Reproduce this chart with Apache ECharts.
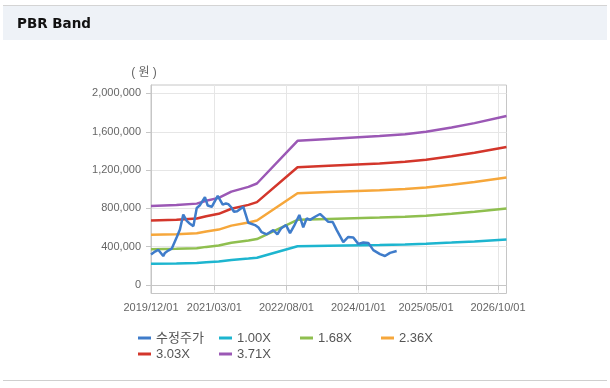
<!DOCTYPE html>
<html><head><meta charset="utf-8">
<script src="https://cdn.jsdelivr.net/npm/echarts@6/dist/echarts.min.js"></script>
<style>html,body{margin:0;padding:0;background:#fff;}#c{width:610px;height:388px;}</style>
</head><body><div id="c"></div>
<script>
// ---- data ----
const seriesNames = ['수정주가', '1.00X', '1.68X', '2.36X', '3.03X', '3.71X'];
const xTickLabels = ['2019/12/01', '2021/03/01', '2022/08/01', '2024/01/01', '2025/05/01', '2026/10/01'];
const yTickValues = [0, 400000, 800000, 1200000, 1600000, 2000000];

const priceDates = ['2019/12/01','2019/12/30','2020/01/22','2020/02/04','2020/02/27','2020/03/10','2020/04/03','2020/04/28','2020/06/03','2020/06/26','2020/07/20','2020/08/14','2020/09/06','2020/10/01','2020/10/25','2020/11/15','2020/12/23','2021/01/12','2021/02/10','2021/03/25','2021/04/30','2021/05/23','2021/06/09','2021/06/28','2021/07/20','2021/08/12','2021/09/25','2021/10/31','2021/12/18','2022/01/12','2022/02/04','2022/03/12','2022/04/29','2022/05/28','2022/06/23','2022/07/29','2022/08/27','2022/09/25','2022/11/02','2022/11/30','2022/12/25','2023/01/18','2023/02/23','2023/03/31','2023/04/23','2023/05/29','2023/06/30','2023/07/29','2023/09/14','2023/10/20','2023/11/25','2023/12/31','2024/02/05','2024/03/12','2024/04/17','2024/06/04','2024/07/10','2024/08/15','2024/10/02'];
const priceValues = [320000,350000,368000,360000,303000,335000,360000,380000,500000,580000,735000,670000,640000,615000,805000,830000,918000,830000,817000,930000,840000,852000,845000,815000,765000,770000,817000,650000,626000,600000,552000,530000,574000,530000,590000,626000,542000,617000,732000,603000,696000,680000,713000,742000,712000,660000,658000,574000,448000,502000,496000,430000,445000,440000,365000,323000,303000,336000,355000];

const bandDates = ['2019/12/01','2020/06/01','2020/10/25','2021/01/01','2021/04/01','2021/07/01','2021/11/01','2022/01/01','2022/10/20','2023/06/01','2024/06/01','2024/12/01','2025/05/01','2025/11/01','2026/04/15','2026/12/01'];
const band100 = [222400,225100,229100,237200,245300,262800,276300,285700,405700,411100,419100,424500,431300,443400,455500,475700];
const band168 = [373600,378200,384900,398500,412100,441500,464200,480000,681600,690600,704100,713200,724600,744900,765200,799200];
const band236 = [524900,531200,540700,559800,578900,620200,652100,674300,957500,970200,989100,1001800,1017900,1046400,1075000,1122700];
const band303 = [673900,682100,694200,718700,743300,796300,837200,865700,1229300,1245600,1269900,1286200,1306800,1343500,1380200,1441400];
const band371 = [825100,835100,850000,880000,910100,975000,1025100,1060000,1505100,1525000,1555000,1575000,1600000,1645000,1690000,1765000];

const colors = ['#3f7cca', '#1db5cf', '#8fbf4f', '#f6a73b', '#d3362b', '#9b58b5'];

// ---- helpers ----
function toTs(s) { const p = s.split('/').map(Number); return new Date(p[0], p[1] - 1, p[2]).getTime(); }
function pad(n) { return (n < 10 ? '0' : '') + n; }
function pairs(dates, vals) { return dates.map((d, i) => [toTs(d), vals[i]]); }

const FONT = "'Liberation Sans', 'Noto Sans CJK KR', Arial, sans-serif";
const chart = echarts.init(document.getElementById('c'), null, { renderer: 'canvas' });
const bandData = [band100, band168, band236, band303, band371];

const series = [{
  name: seriesNames[0], type: 'line', data: pairs(priceDates, priceValues),
  showSymbol: false, symbol: 'none', lineStyle: { width: 2.5, color: colors[0] }, itemStyle: { color: colors[0] }, z: 10
}].concat(bandData.map((b, i) => ({
  name: seriesNames[i + 1], type: 'line', data: pairs(bandDates, b),
  showSymbol: false, symbol: 'none', lineStyle: { width: 2.5, color: colors[i + 1] }, itemStyle: { color: colors[i + 1] }
})));

chart.setOption({
  animation: false,
  backgroundColor: '#fff',
  color: colors,
  title: {
    text: 'PBR Band', left: 17, top: 17, padding: 0,
    textStyle: { fontFamily: 'DejaVu Sans', fontWeight: 'bold', fontSize: 13.5, color: '#111' }
  },
  graphic: [
    { type: 'rect', shape: { x: 3, y: 5, width: 604, height: 35 }, style: { fill: '#eef2f7' }, z: -10 },
    { type: 'line', shape: { x1: 3, y1: 5.5, x2: 607, y2: 5.5 }, style: { stroke: '#d4d4d4', lineWidth: 1 }, z: -9 },
    { type: 'line', shape: { x1: 3, y1: 380.5, x2: 607, y2: 380.5 }, style: { stroke: '#cfcfcf', lineWidth: 1 }, z: -9 }
  ],
  grid: { left: 151, top: 85, right: 103.5, bottom: 94.5, show: true, borderColor: '#c6c6c6', borderWidth: 1 },
  legend: {
    left: 138, top: 331.5, width: 330, orient: 'horizontal', padding: 0,
    icon: 'rect', itemWidth: 13, itemHeight: 3, itemGap: 3,
    textStyle: { fontFamily: FONT, fontSize: 13, color: '#555', width: 60, lineHeight: 13 },
    data: seriesNames
  },
  xAxis: {
    type: 'value', min: toTs('2019/12/01'), max: toTs('2026/12/01'),
    axisLine: { lineStyle: { color: '#c6c6c6' } },
    axisTick: { show: true, length: 5, lineStyle: { color: '#c6c6c6' }, customValues: xTickLabels.map(toTs) },
    axisLabel: {
      customValues: xTickLabels.map(toTs), margin: 9, fontFamily: FONT, fontSize: 11, color: '#666',
      formatter: v => { const d = new Date(v); return d.getFullYear() + '/' + pad(d.getMonth() + 1) + '/' + pad(d.getDate()); }
    },
    splitLine: { show: true, lineStyle: { color: '#e6e6e6' } }
  },
  yAxis: {
    type: 'value', min: -88000, max: 2088000,
    name: '( 원 )', nameLocation: 'end', nameGap: 6,
    nameTextStyle: { fontFamily: FONT, fontSize: 12, color: '#666', padding: [0, 14, 0, 0] },
    axisLine: { show: true, lineStyle: { color: '#c6c6c6' } },
    axisTick: { show: true, length: 5, lineStyle: { color: '#c6c6c6' }, customValues: yTickValues },
    axisLabel: { customValues: yTickValues, margin: 10, fontFamily: FONT, fontSize: 11, color: '#666',
      formatter: v => v.toLocaleString('en-US') },
    splitLine: { show: true, lineStyle: { color: '#e6e6e6' } }
  },
  series: series
});
</script></body></html>
